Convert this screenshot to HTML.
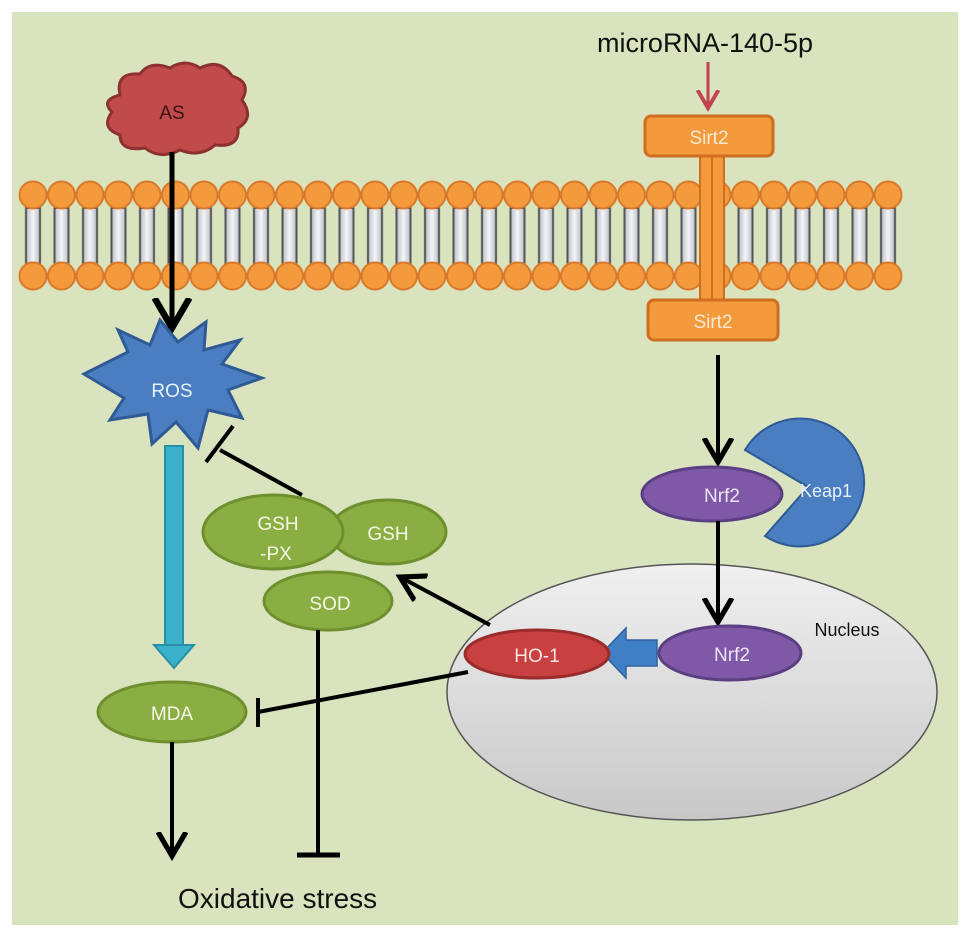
<!DOCTYPE html>
<html><head><meta charset="utf-8"><style>
html,body{margin:0;padding:0;background:#fff;}
svg{display:block;font-family:"Liberation Sans",sans-serif;}
</style></head><body>
<svg width="969" height="939" viewBox="0 0 969 939" xmlns="http://www.w3.org/2000/svg">
<defs>
<linearGradient id="tail" x1="0" x2="1"><stop offset="0" stop-color="#b8bcc4"/><stop offset="0.5" stop-color="#f4f5f7"/><stop offset="1" stop-color="#b8bcc4"/></linearGradient>
<linearGradient id="nuc" x1="0" y1="0" x2="0" y2="1"><stop offset="0" stop-color="#f0f0f0"/><stop offset="1" stop-color="#c8c8c8"/></linearGradient>
<pattern id="memp" patternUnits="userSpaceOnUse" x="18.75" y="0" width="28.5" height="939">
<rect x="7.25" y="208" width="14" height="56" fill="url(#tail)" stroke="#555" stroke-width="2"/>
<circle cx="14.25" cy="195" r="13.5" fill="#f39a3c" stroke="#d9782a" stroke-width="2"/>
<circle cx="14.25" cy="276" r="13.5" fill="#f39a3c" stroke="#d9782a" stroke-width="2"/>
</pattern>
<marker id="ah" markerWidth="8" markerHeight="8" refX="6" refY="4" orient="auto" markerUnits="strokeWidth"><path d="M0,0.5 L6,4 L0,7.5" fill="none" stroke="#000" stroke-width="1.3"/></marker>
<marker id="ahr" markerWidth="8" markerHeight="8" refX="6" refY="4" orient="auto" markerUnits="strokeWidth"><path d="M0,0.5 L6,4 L0,7.5" fill="none" stroke="#c0434f" stroke-width="1.3"/></marker>
</defs>
<rect x="12" y="12" width="946" height="913" fill="#d9e3bd"/>

<!-- membrane -->
<rect x="18.75" y="178" width="883.5" height="116" fill="url(#memp)"/>

<!-- Sirt2 -->
<rect x="700" y="152" width="12" height="152" fill="#f39a3c" stroke="#d06e20" stroke-width="2"/>
<rect x="712" y="152" width="12" height="152" fill="#f39a3c" stroke="#d06e20" stroke-width="2"/>
<rect x="645" y="116" width="128" height="40" rx="6" fill="#f39a3c" stroke="#d06e20" stroke-width="3"/>
<text x="709" y="144" font-size="19" fill="#fde8cf" text-anchor="middle">Sirt2</text>
<rect x="648" y="300" width="130" height="40" rx="6" fill="#f39a3c" stroke="#d06e20" stroke-width="3"/>
<text x="713" y="328" font-size="19" fill="#fde8cf" text-anchor="middle">Sirt2</text>

<text x="705" y="52" font-size="27" fill="#111" text-anchor="middle">microRNA-140-5p</text>
<line x1="708" y1="62" x2="708" y2="108" stroke="#c0434f" stroke-width="3" marker-end="url(#ahr)"/>

<!-- AS cloud -->
<path d="M120,95 Q115,72 140,74 Q150,60 170,68 Q185,58 200,68 Q220,58 232,76 Q252,82 242,100 Q255,118 238,128 Q240,148 215,145 Q200,158 180,150 Q160,160 145,148 Q120,152 120,135 Q100,128 112,112 Q100,100 120,95 Z" fill="#c14b4b" stroke="#8c3030" stroke-width="3"/>
<text x="172" y="119" font-size="19" fill="#3a1010" text-anchor="middle">AS</text>

<line x1="172" y1="152" x2="172" y2="328" stroke="#000" stroke-width="5" marker-end="url(#ah)"/>

<!-- ROS star -->
<path d="M84,374 L128,352 L118,330 L150,345 L160,320 L178,342 L206,322 L204,350 L240,340 L222,364 L262,378 L228,390 L242,418 L208,410 L198,448 L176,422 L152,444 L148,414 L110,420 L124,398 Z" fill="#4a7ec0" stroke="#2e5a95" stroke-width="3"/>
<text x="172" y="397" font-size="19" fill="#e8f0fa" text-anchor="middle">ROS</text>

<!-- cyan arrow -->
<rect x="165" y="446" width="18" height="200" fill="#3bb0c9" stroke="#2790a8" stroke-width="2"/>
<path d="M154,645 L194,645 L174,668 Z" fill="#3bb0c9" stroke="#2790a8" stroke-width="2"/>

<!-- GSH inhibition to ROS -->
<line x1="302" y1="495" x2="220" y2="450" stroke="#000" stroke-width="4"/>
<line x1="206" y1="462" x2="233" y2="426" stroke="#000" stroke-width="4"/>

<!-- GSH ellipses -->
<ellipse cx="388" cy="532" rx="58" ry="32" fill="#8bae43" stroke="#6e8f2e" stroke-width="3"/>
<text x="388" y="540" font-size="19" fill="#f3f7e6" text-anchor="middle">GSH</text>
<ellipse cx="273" cy="532" rx="70" ry="37" fill="#8bae43" stroke="#6e8f2e" stroke-width="3"/>
<text x="278" y="530" font-size="19" fill="#f3f7e6" text-anchor="middle">GSH</text>
<text x="276" y="560" font-size="19" fill="#f3f7e6" text-anchor="middle">-PX</text>
<ellipse cx="328" cy="601" rx="64" ry="29" fill="#8bae43" stroke="#6e8f2e" stroke-width="3"/>
<text x="330" y="610" font-size="19" fill="#f3f7e6" text-anchor="middle">SOD</text>

<!-- SOD inhibition -->
<line x1="318" y1="630" x2="318" y2="855" stroke="#000" stroke-width="4"/>
<line x1="297" y1="855" x2="340" y2="855" stroke="#000" stroke-width="5"/>

<!-- MDA -->
<ellipse cx="172" cy="712" rx="74" ry="30" fill="#8bae43" stroke="#6e8f2e" stroke-width="3"/>
<text x="172" y="720" font-size="19" fill="#f3f7e6" text-anchor="middle">MDA</text>
<line x1="172" y1="742" x2="172" y2="856" stroke="#000" stroke-width="4" marker-end="url(#ah)"/>

<!-- Nucleus -->
<ellipse cx="692" cy="692" rx="245" ry="128" fill="url(#nuc)" stroke="#555" stroke-width="1.5"/>
<text x="847" y="636" font-size="18" fill="#111" text-anchor="middle">Nucleus</text>

<!-- HO-1 inhibition to MDA -->
<line x1="468" y1="672" x2="258" y2="712" stroke="#000" stroke-width="4"/>
<line x1="258" y1="698" x2="258" y2="727" stroke="#000" stroke-width="4"/>
<!-- HO-1 to GSH arrow -->
<line x1="490" y1="625" x2="400" y2="577" stroke="#000" stroke-width="4" marker-end="url(#ah)"/>

<!-- Sirt2 -> Nrf2 -->
<line x1="718" y1="355" x2="718" y2="462" stroke="#000" stroke-width="4" marker-end="url(#ah)"/>

<!-- Keap1 -->
<path d="M808,487 L745,450 A64,64 0 1,1 765,536 Z" fill="#4a7ec0" stroke="#2e5a95" stroke-width="2"/>
<text x="826" y="497" font-size="18" fill="#e8f0fa" text-anchor="middle">Keap1</text>

<ellipse cx="712" cy="494" rx="70" ry="27" fill="#7f59a8" stroke="#5c3f82" stroke-width="3"/>
<text x="722" y="502" font-size="19" fill="#eee6f6" text-anchor="middle">Nrf2</text>

<line x1="718" y1="521" x2="718" y2="622" stroke="#000" stroke-width="4" marker-end="url(#ah)"/>

<ellipse cx="730" cy="653" rx="71" ry="27" fill="#7f59a8" stroke="#5c3f82" stroke-width="3"/>
<text x="732" y="661" font-size="19" fill="#eee6f6" text-anchor="middle">Nrf2</text>

<!-- blue block arrow -->
<path d="M657,640 L626,640 L626,628 L602,653 L626,678 L626,666 L657,666 Z" fill="#3f7fc4" stroke="#2e62a0" stroke-width="1.5"/>

<ellipse cx="537" cy="654" rx="72" ry="24" fill="#c8403f" stroke="#9a2c2c" stroke-width="3"/>
<text x="537" y="662" font-size="19" fill="#fbe6e6" text-anchor="middle">HO-1</text>

<text x="178" y="908" font-size="28" fill="#111">Oxidative stress</text>
</svg>
</body></html>
